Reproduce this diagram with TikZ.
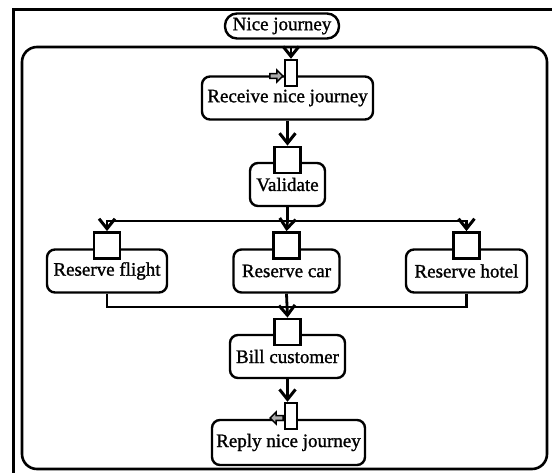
\documentclass[tikz,border=0pt]{standalone}
\usepackage{fontspec}
\newfontfamily\diagfont[FakeBold=1.2]{Liberation Serif}
\usetikzlibrary{arrows.meta,positioning,shapes.arrows}

\begin{document}
\begin{tikzpicture}[
  x=1pt,y=-1pt,>={Straight Barb[length=10pt,width=16pt,line width=3pt]},
  every node/.style={font=\diagfont\fontsize{19}{21}\selectfont},
  action/.style={draw,line width=2.4pt,rounded corners=8pt,minimum height=43pt,inner sep=0pt},
  pinbox/.style={draw,fill=white,line width=2.4pt,minimum width=26pt,minimum height=26pt,inner sep=0pt},
  parpin/.style={draw,fill=white,line width=2.4pt,minimum width=12pt,minimum height=26pt,inner sep=0pt},
  garrow/.style={single arrow,draw,fill=gray!65,line width=1.4pt,minimum height=13pt,minimum width=12pt,
                 single arrow head extend=2.5pt,inner sep=1pt},
  flow/.style={->,line width=2.8pt},
  wire/.style={line width=2.8pt}
]
  \useasboundingbox (0,0) rectangle (552,472);
  \clip (0,0) rectangle (552,472);

  % Frame and activity border
  \draw[line width=3pt] (13,480) -- (13,9) -- (560,9);
  \draw[line width=2.6pt,rounded corners=15pt] (22,47) rectangle (547,469);
  \node[draw,line width=2.4pt,rounded corners=12pt,minimum width=114pt,minimum height=25pt,inner sep=0pt]
    (title) at (282,26) {Nice journey};

  % Actions
  \node[action,minimum width=171pt] (recv)   at (287.5,98)  {Receive nice journey};
  \node[action,minimum width=75pt]  (valid)  at (287.5,184.5) {Validate};
  \node[action,minimum width=120pt] (flight) at (107,271)   {Reserve flight};
  \node[action,minimum width=106pt] (car)    at (286.5,271) {Reserve car};
  \node[action,minimum width=121pt] (hotel)  at (466.5,271) {Reserve hotel};
  \node[action,minimum width=115pt] (bill)   at (287.5,356.5) {Bill customer};
  \node[action,minimum width=153pt,minimum height=45pt] (reply) at (288.5,442.5) {Reply nice journey};

  % Pins
  \node[parpin] (inpin)  at (291,73)  {};
  \node[garrow,anchor=tip] (inarr) at ([yshift=-3pt]inpin.west) {};
  \node[pinbox] (vpin) at ([yshift=2pt]valid.north)  {};
  \node[pinbox] (fpin) at ([yshift=3pt]flight.north) {};
  \node[pinbox] (cpin) at ([yshift=3pt]car.north)    {};
  \node[pinbox] (hpin) at ([yshift=3pt]hotel.north)  {};
  \node[pinbox] (bpin) at ([yshift=2pt]bill.north)   {};
  \node[parpin] (outpin) at (291,416) {};
  \node[garrow,anchor=tail,shape border rotate=180] (outarr) at ([yshift=-2pt]outpin.west) {};

  % Fork and join points
  \coordinate (entry) at (291,47);
  \coordinate (fork)  at (287.5,221);
  \coordinate (join)  at (287.5,307);

  % Flows
  \draw[flow] (entry) -- (inpin.north);
  \draw[flow] (recv.south) -- (vpin.north);
  \draw[wire] (valid.south) -- (fork);
  \draw[wire,line cap=rect] (fork -| fpin.north) -- (fork -| hpin.north);
  \draw[flow] (fork -| fpin.north) -- (fpin.north);
  \draw[flow] (fork -| hpin.north) -- (hpin.north);
  \draw[flow] (fork) -- (cpin.north);
  \draw[wire] (flight.south) |- (join);
  \draw[wire] (hotel.south) |- (join);
  \draw[flow] (car.south) -- (bpin.north);
  \draw[flow] (bill.south) -- (bill.south |- outpin.north);
\end{tikzpicture}
\end{document}
